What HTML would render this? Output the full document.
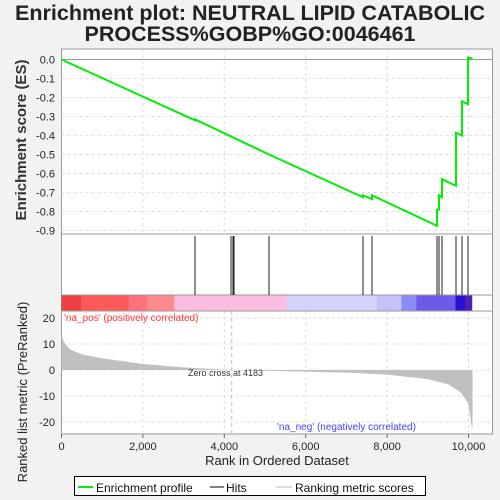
<!DOCTYPE html>
<html><head><meta charset="utf-8"><style>
body{margin:0;background:#f2f2f2;}
svg{display:block;font-family:"Liberation Sans",sans-serif;}
</style></head><body>
<svg id="c" width="500" height="500">
<text x="250" y="20" text-anchor="middle" font-size="21" font-weight="bold" fill="#222" textLength="470" lengthAdjust="spacingAndGlyphs">Enrichment plot: NEUTRAL LIPID CATABOLIC</text>
<text x="250" y="41" text-anchor="middle" font-size="21" font-weight="bold" fill="#222" textLength="331" lengthAdjust="spacingAndGlyphs">PROCESS%GOBP%GO:0046461</text>
<rect x="61.5" y="49" width="431" height="385" fill="#fff" stroke="#999"/>
<g id="g"></g>
<text transform="translate(26,140) rotate(-90)" text-anchor="middle" font-size="15" font-weight="bold" fill="#333">Enrichment score (ES)</text>
<text transform="translate(27,392) rotate(-90)" text-anchor="middle" font-size="13" fill="#222">Ranked list metric (PreRanked)</text>
<text x="277" y="465" text-anchor="middle" font-size="13" fill="#222">Rank in Ordered Dataset</text>
<text x="64" y="321" font-size="10" fill="#ff3333">'na_pos' (positively correlated)</text>
<text x="277" y="430" font-size="10" fill="#4444ff">'na_neg' (negatively correlated)</text>
<text x="188" y="376" font-size="9" fill="#333">Zero cross at 4183</text>
<g>
<rect x="74.5" y="476.5" width="351" height="19" fill="#fff" stroke="#000"/>
<line x1="78" y1="487" x2="93" y2="487" stroke="#00ee00" stroke-width="2"/>
<text x="96" y="492" font-size="12" fill="#111">Enrichment profile</text>
<line x1="210" y1="487" x2="224" y2="487" stroke="#000"/>
<text x="226" y="492" font-size="12" fill="#111">Hits</text>
<line x1="276" y1="487" x2="292" y2="487" stroke="#bbb"/>
<text x="295" y="492" font-size="12" fill="#111">Ranking metric scores</text>
</g>
</svg>
<script>
const hitRanks=[3280,4165,4214,4238,5098,7408,7629,9226,9275,9349,9693,9840,9988];
const esRanks=[0,3280,3280,4165,5098,7408,7408,7629,7629,9226,9226,9275,9275,9349,9349,9693,9693,9840,9840,9988,9988,10100];
const esValues=[0,-0.32,-0.315,-0.405,-0.50,-0.725,-0.715,-0.735,-0.715,-0.875,-0.79,-0.79,-0.715,-0.725,-0.63,-0.665,-0.385,-0.40,-0.22,-0.235,0.01,0.005];
const metricRanks=[0,50,200,500,1000,2000,3000,4183,5500,7000,8000,9000,9500,9800,10000,10080,10100];
const metricValues=[14,11,8,6,4.5,2.3,1,0,-0.5,-1,-1.8,-3.5,-5.5,-8.5,-13,-22,-22];
const esTicks=[0,-0.1,-0.2,-0.3,-0.4,-0.5,-0.6,-0.7,-0.8,-0.9];
const metricTicks=[20,10,0,-10,-20];
const xTicks=[0,2000,4000,6000,8000,10000];
const xTickLabels=["0","2,000","4,000","6,000","8,000","10,000"];
const X=r=>61.5+r*0.0407;
const YE=v=>59.5-v*190;
const YM=v=>370-v*2.6;
const g=document.getElementById('g');
const NS='http://www.w3.org/2000/svg';
function mk(t,a,p){const e=document.createElementNS(NS,t);for(const k in a)e.setAttribute(k,a[k]);(p||g).appendChild(e);return e;}
xTicks.forEach((t,i)=>{
 if(i>0){const l=mk('line',{x1:X(t),x2:X(t),y1:49,y2:234,stroke:'#ddd','stroke-dasharray':'3,3'});
 
 const l2=mk('line',{x1:X(t),x2:X(t),y1:311,y2:434,stroke:'#ddd','stroke-dasharray':'3,3'});
 }
 const tk=mk('line',{x1:X(t),x2:X(t),y1:434,y2:438,stroke:'#666'});
 
 const tx=mk('text',{x:X(t),y:450,'text-anchor':'middle','font-size':11,fill:'#222'});tx.textContent=xTickLabels[i];
 
});
esTicks.forEach(t=>{
 const l=mk('line',{x1:61.5,x2:492,y1:YE(t),y2:YE(t),stroke:t===0?'#999':'#ddd','stroke-dasharray':t===0?'':'3,3'});
 
 const tx=mk('text',{x:55,y:YE(t)+4,'text-anchor':'end','font-size':11,fill:'#222'});tx.textContent=t.toFixed(1);
 
});
metricTicks.forEach(t=>{
 const l=mk('line',{x1:61.5,x2:492,y1:YM(t),y2:YM(t),stroke:'#ddd','stroke-dasharray':'3,3'});
 
 const tx=mk('text',{x:55,y:YM(t)+4,'text-anchor':'end','font-size':11,fill:'#222'});tx.textContent=t;
 
});
const zl=mk('line',{x1:X(4183),x2:X(4183),y1:311,y2:434,stroke:'#bbb','stroke-dasharray':'4,3'});

[234,295,311].forEach(y=>{const l=mk('line',{x1:61.5,x2:492,y1:y,y2:y,stroke:'#999'});
 });
const cbStops=[[0,'#ee4040'],[480,'#ff5a5a'],[1650,'#ff7080'],[2100,'#ff8a8a'],[2770,'#fbbde0'],[5540,'#d4d2fa'],[7750,'#c5c2fa'],[8350,'#8b8bf5'],[8720,'#6b5ce8'],[9680,'#2a10d0'],[9920,'#5020b0'],[10080,null]];
for(let i=0;i<cbStops.length-1;i++){
 const r=mk('rect',{x:X(cbStops[i][0]),y:295.5,width:X(cbStops[i+1][0])-X(cbStops[i][0])+0.5,height:15,fill:cbStops[i][1]});
 
}
hitRanks.forEach(h=>{const l=mk('line',{x1:X(h),x2:X(h),y1:236,y2:295,stroke:'#222','stroke-width':1});
 });
let d='M'+X(0)+','+YM(0);
metricRanks.forEach((r,i)=>{d+=' L'+X(r)+','+YM(metricValues[i]);});
d+=' L'+X(metricRanks[metricRanks.length-1])+','+YM(0)+' Z';
const ma=mk('path',{d:d,fill:'#c0c0c0',stroke:'none'});

const pts=esRanks.map((r,i)=>X(r)+','+YE(esValues[i])).join(' ');
const pl=mk('polyline',{points:pts,fill:'none',stroke:'#00ee00','stroke-width':2});

</script>
</body></html>
